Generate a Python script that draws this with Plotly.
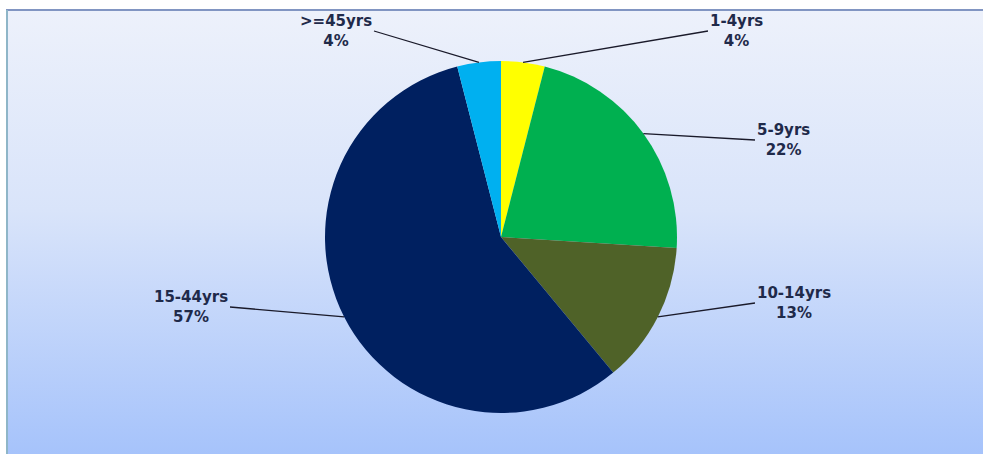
import base64
import numpy as np
import plotly.graph_objects as go

# ---- data ----
labels = ["1-4yrs", "5-9yrs", "10-14yrs", "15-44yrs", ">=45yrs"]
values = [4, 22, 13, 57, 4]
colors = ["#FFFF00", "#00B050", "#4F6228", "#002060", "#00B0F0"]

W, H = 983, 454
cx, cy, R = 501, 237, 176  # pie centre / radius in pixels (layout)

# label anchor points in pixels (layout positions) and which side the line attaches
label_pos = {
    "1-4yrs": (708, 31, "left"),
    "5-9yrs": (755, 140, "left"),
    "10-14yrs": (755, 303, "left"),
    "15-44yrs": (230, 307, "right"),
    ">=45yrs": (374, 31, "right"),
}

fig = go.Figure()

fig.add_trace(go.Pie(
    labels=labels,
    values=values,
    marker=dict(colors=colors, line=dict(width=0)),
    sort=False,
    direction="clockwise",
    rotation=0,
    textinfo="none",
    hoverinfo="label+percent",
    showlegend=False,
    domain=dict(x=[(cx - R) / W, (cx + R) / W],
                y=[1 - (cy + R) / H, 1 - (cy - R) / H]),
))

# annotations with leader lines, tip computed from slice mid angles
vals = np.array(values, dtype=float)
frac = vals / vals.sum()
mids = np.cumsum(frac) - frac / 2
annotations = []
for lab, f, m in zip(labels, frac, mids):
    th = 2 * np.pi * m
    tx = cx + R * np.sin(th)
    ty = cy - R * np.cos(th)
    px, py, side = label_pos[lab]
    annotations.append(dict(
        x=tx / W, y=1 - ty / H, xref="paper", yref="paper",
        text=f"<b>{lab}<br>{round(f * 100)}%</b>",
        showarrow=True, arrowhead=0, arrowwidth=1.3, arrowcolor="#1a1a2a",
        ax=px - tx, ay=py - ty, standoff=0,
        xanchor=side, yanchor="middle",
        font=dict(family="DejaVu Sans", size=15, color="#1F2A4A"),
        align="center",
    ))

# background gradient as an SVG image
svg = f'''<svg xmlns="http://www.w3.org/2000/svg" width="{W}" height="{H}">
<defs><linearGradient id="g" x1="0" y1="0" x2="0" y2="1">
<stop offset="0" stop-color="#edf1fb"/>
<stop offset="0.45" stop-color="#d9e4fa"/>
<stop offset="1" stop-color="#a6c3fb"/>
</linearGradient></defs>
<rect x="0" y="0" width="{W}" height="{H}" fill="#ffffff"/>
<rect x="6" y="10" width="{W - 6}" height="{H - 10}" fill="url(#g)"/>
</svg>'''
src = "data:image/svg+xml;base64," + base64.b64encode(svg.encode()).decode()

fig.update_layout(
    width=W, height=H,
    margin=dict(l=0, r=0, t=0, b=0),
    paper_bgcolor="#ffffff",
    plot_bgcolor="rgba(0,0,0,0)",
    images=[dict(source=src, xref="paper", yref="paper", x=0, y=1,
                 sizex=1, sizey=1, xanchor="left", yanchor="top",
                 sizing="stretch", layer="below")],
    shapes=[
        dict(type="line", xref="paper", yref="paper",
             x0=6 / W, x1=1, y0=1 - 10 / H, y1=1 - 10 / H,
             line=dict(color="#8195c2", width=2)),
        dict(type="line", xref="paper", yref="paper",
             x0=7 / W, x1=7 / W, y0=0, y1=1 - 10 / H,
             line=dict(color="#8fb6c8", width=2)),
    ],
    annotations=annotations,
)

fig.write_html("out.html")
